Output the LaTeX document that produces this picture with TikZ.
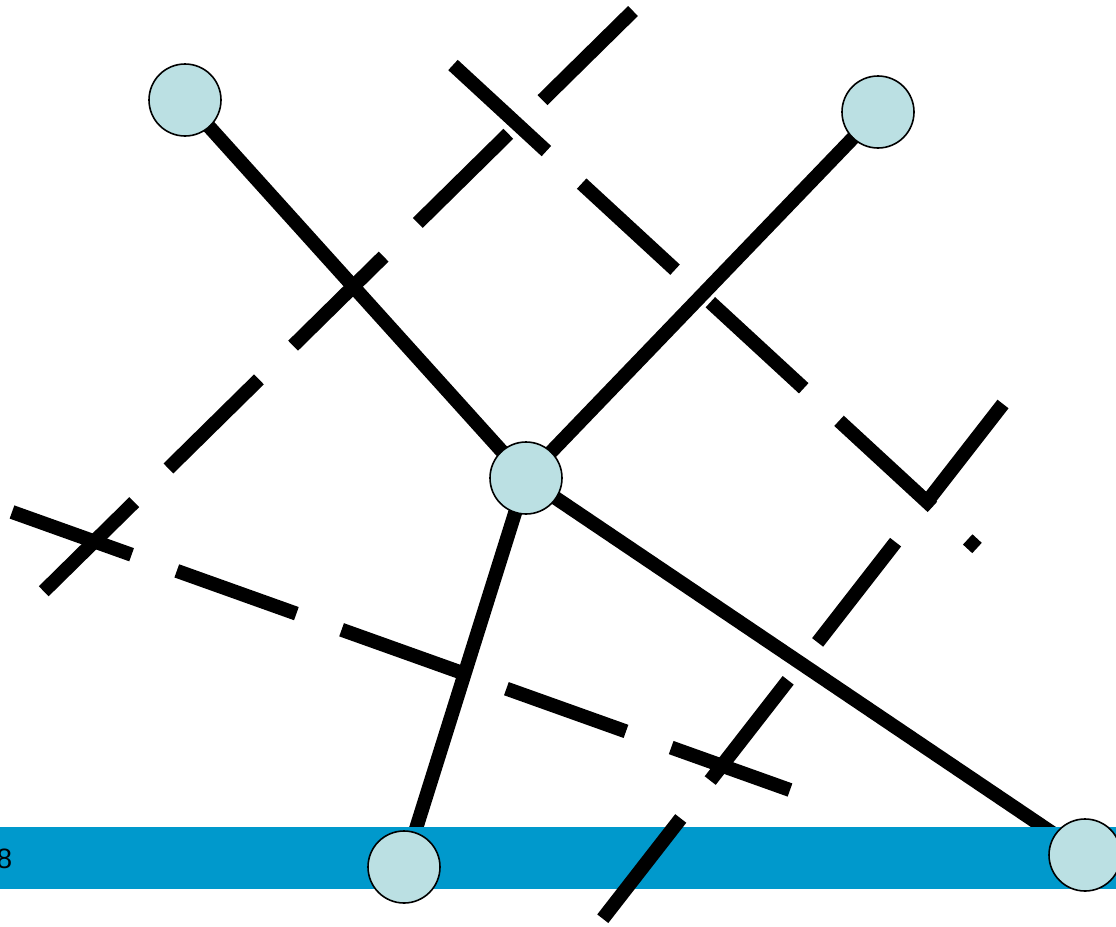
\documentclass[tikz,border=0pt]{standalone}
\usepackage{fontspec}
\setmainfont{Liberation Sans}
\definecolor{bandblue}{RGB}{0,153,204}
\definecolor{nodefill}{RGB}{187,224,227}
\pgfdeclarelayer{bg}
\pgfsetlayers{bg,main}
\begin{document}
\begin{tikzpicture}[x=1pt,y=-1pt,
  nodecirc/.style={circle,draw=black,line width=1.6pt,fill=nodefill,minimum size=72pt,inner sep=0pt},
  edge/.style={line width=14pt},
  dashline/.style={line width=14pt,dash pattern=on 127pt off 48pt}]
\useasboundingbox (0,0) rectangle (1116,926);
\fill[bandblue] (0,827) rectangle (1116,889);
\node[anchor=east,inner sep=0pt,font=\fontsize{28}{28}\selectfont] (pg) at (12.5,859) {8};
% dashed lines
\coordinate (a1) at (633,11);  \coordinate (a2) at (43,592);
\coordinate (b1) at (453,65);  \coordinate (b2) at (977,548);
\coordinate (c1) at (1003,404); \coordinate (c2) at (601,921);
\coordinate (d1) at (12,512);  \coordinate (d2) at (790,790);
\draw[dashline] (a1) -- (a2);
\draw[dashline] (b1) -- (b2);
\draw[dashline] (c1) -- (c2);
\draw[dashline] (d1) -- (d2);
% nodes
\node[nodecirc] (hub) at (526,478) {};
\node[nodecirc] (nw) at (185,100) {};
\node[nodecirc] (ne) at (878,112) {};
\node[nodecirc] (s) at (404,867) {};
\node[nodecirc] (se) at (1085,855) {};
\begin{pgfonlayer}{bg}
\draw[edge] (hub.center) -- (nw.center);
\draw[edge] (hub.center) -- (ne.center);
\draw[edge] (hub.center) -- (s.center);
\draw[edge] (hub.center) -- (se.center);
\end{pgfonlayer}
\end{tikzpicture}
\end{document}
